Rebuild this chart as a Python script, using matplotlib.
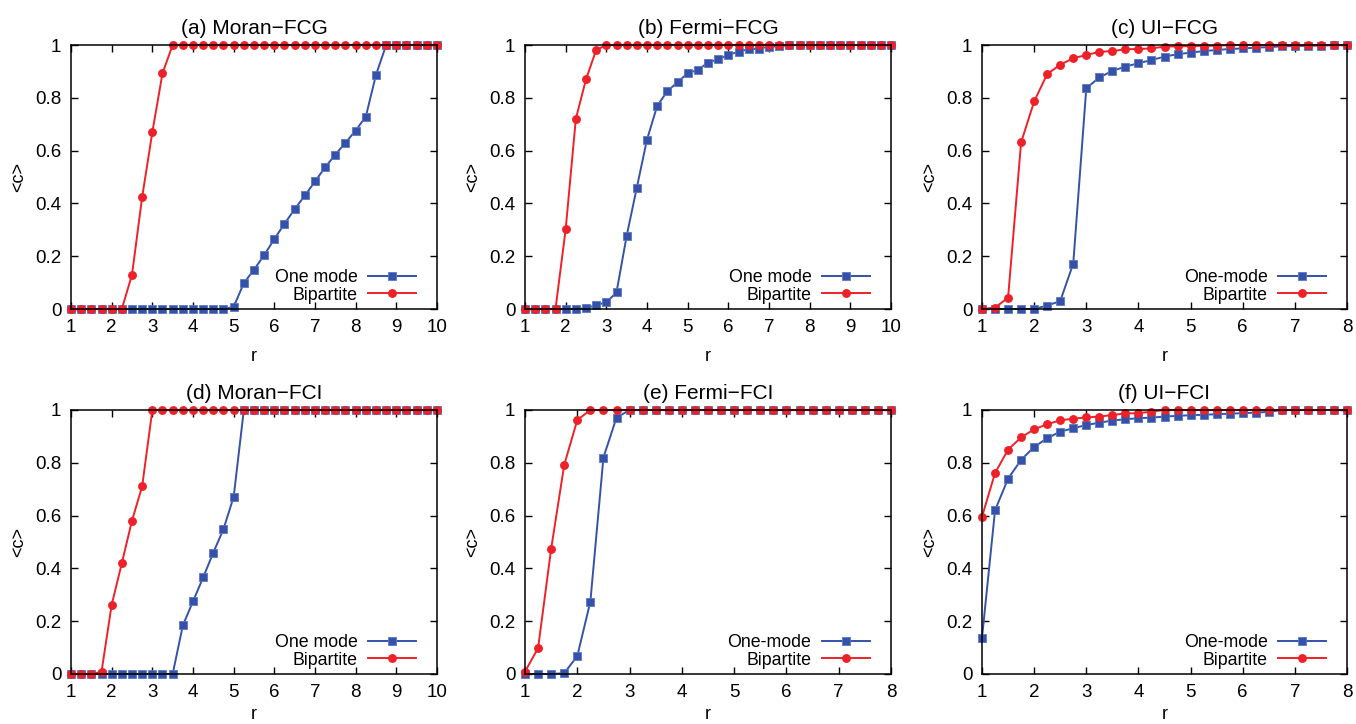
import numpy as np
import matplotlib
matplotlib.use('Agg')
from matplotlib import pyplot as plt

plt.rcParams['font.family'] = ['Liberation Sans', 'DejaVu Sans']

BLUE = '#3552a8'
RED = '#ee2128'

# r grid (step 0.25)
r10 = np.arange(1, 10.001, 0.25)
r8 = np.arange(1, 8.001, 0.25)

# (a) Moran-FCG
moran_fcg_one = [0] * 16 + [0.008, 0.098, 0.149, 0.204, 0.265, 0.323, 0.378, 0.43, 0.483,
                            0.537, 0.585, 0.63, 0.676, 0.729, 0.887] + [1] * 6
moran_fcg_bip = [0] * 6 + [0.13, 0.424, 0.67, 0.893] + [1] * 27

# (b) Fermi-FCG
fermi_fcg_one = [0] * 6 + [0.003, 0.015, 0.025, 0.063, 0.277, 0.46, 0.642, 0.769, 0.825,
                           0.859, 0.893, 0.906, 0.933, 0.946, 0.962, 0.975, 0.984, 0.986,
                           0.994, 0.995] + [1] * 11
fermi_fcg_bip = [0] * 4 + [0.302, 0.72, 0.87, 0.981] + [1] * 29

# (c) UI-FCG
ui_fcg_one = [0] * 5 + [0.013, 0.03, 0.172, 0.836, 0.877, 0.902, 0.918, 0.931, 0.943, 0.956,
                        0.965, 0.971, 0.977, 0.981, 0.985, 0.987, 0.99, 0.992, 0.995, 0.996,
                        0.997, 0.998, 0.999, 1]
ui_fcg_bip = [0, 0.005, 0.043, 0.631, 0.786, 0.89, 0.925, 0.95, 0.962, 0.974, 0.977, 0.984,
              0.985, 0.987, 0.994, 0.995, 0.996, 0.997, 0.997] + [1] * 10

# (d) Moran-FCI
moran_fci_one = [0] * 11 + [0.184, 0.275, 0.366, 0.46, 0.549, 0.671] + [1] * 20
moran_fci_bip = [0] * 3 + [0.008, 0.262, 0.42, 0.581, 0.711] + [1] * 29

# (e) Fermi-FCI
fermi_fci_one = [0, 0, 0, 0.003, 0.068, 0.274, 0.82, 0.971] + [1] * 21
fermi_fci_bip = [0.009, 0.098, 0.474, 0.792, 0.962] + [1] * 24

# (f) UI-FCI
ui_fci_one = [0.137, 0.62, 0.74, 0.811, 0.86, 0.893, 0.918, 0.931, 0.943, 0.952, 0.96, 0.965,
              0.969, 0.971, 0.975, 0.978, 0.98, 0.982, 0.984, 0.986, 0.988, 0.99, 0.993] + [1] * 6
ui_fci_bip = [0.596, 0.761, 0.85, 0.896, 0.927, 0.946, 0.961, 0.967, 0.972, 0.975, 0.981,
              0.987, 0.988, 0.994] + [1] * 15

panels = [
    ('(a) Moran\u2212FCG', r10, moran_fcg_one, moran_fcg_bip, 'One mode'),
    ('(b) Fermi\u2212FCG', r10, fermi_fcg_one, fermi_fcg_bip, 'One mode'),
    ('(c) UI\u2212FCG', r8, ui_fcg_one, ui_fcg_bip, 'One-mode'),
    ('(d) Moran\u2212FCI', r10, moran_fci_one, moran_fci_bip, 'One mode'),
    ('(e) Fermi\u2212FCI', r8, fermi_fci_one, fermi_fci_bip, 'One-mode'),
    ('(f) UI\u2212FCI', r8, ui_fci_one, ui_fci_bip, 'One-mode'),
]

W, H = 1356, 724
fig = plt.figure(figsize=(W / 100, H / 100), dpi=100)

# axes boxes in pixels: left, right, top, bottom
lefts = [(71, 437), (525, 891), (982, 1347)]
rows = [(45, 309), (410, 674)]

for i, (title, r, one, bip, one_label) in enumerate(panels):
    (x0, x1) = lefts[i % 3]
    (y0, y1) = rows[i // 3]
    ax = fig.add_axes([x0 / W, 1 - y1 / H, (x1 - x0) / W, (y1 - y0) / H])
    ax.plot(r, one, color=BLUE, marker='s', markersize=6.4, lw=1.4, label=one_label,
            markeredgewidth=0.6, markeredgecolor='#5a78c8')
    ax.plot(r, bip, color=RED, marker='o', markersize=6.4, lw=1.4, label='Bipartite',
            markeredgewidth=0)
    xmax = r[-1]
    ax.set_xlim(1, xmax)
    ax.set_ylim(0, 1)
    ax.set_xticks(np.arange(1, xmax + 0.5, 1))
    ax.set_xticklabels([str(int(v)) for v in np.arange(1, xmax + 0.5, 1)])
    ax.set_yticks([0, 0.2, 0.4, 0.6, 0.8, 1])
    ax.set_yticklabels(['0', '0.2', '0.4', '0.6', '0.8', '1'])
    ax.tick_params(direction='in', top=True, right=True, length=5, width=1,
                   labelsize=13.5, pad=7)
    for s in ax.spines.values():
        s.set_linewidth(1.1)
    ax.set_title(title, fontsize=15, pad=8)
    # bottom row label sits right at the figure edge, keep it inside
    ax.set_xlabel('r', fontsize=13, labelpad=9 if i < 3 else 4)
    ax.set_ylabel('<c>', fontsize=13, labelpad=6)
    for line in ax.lines:
        line.set_clip_on(False)
    ax.legend(loc='lower right', frameon=False, markerfirst=False, fontsize=12.8,
              handlelength=2.7, handletextpad=0.6, labelspacing=0.05,
              borderpad=0, borderaxespad=0, bbox_to_anchor=(0.943, 0.02))

fig.savefig('out.png', dpi=100)
